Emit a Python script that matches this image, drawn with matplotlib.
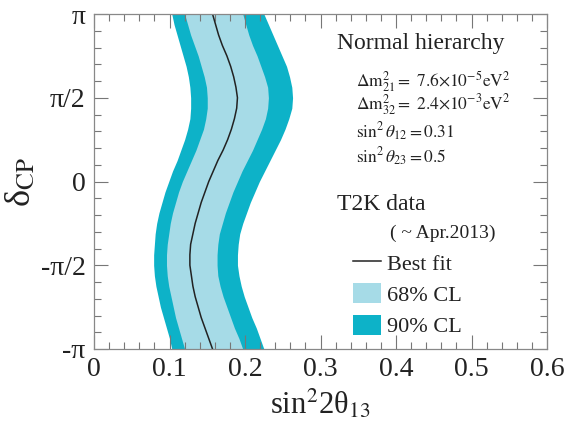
import numpy as np
import matplotlib
matplotlib.use("Agg")
import matplotlib.pyplot as plt
from matplotlib.lines import Line2D
from matplotlib.patches import Patch
from matplotlib.ticker import MultipleLocator, FixedLocator

plt.rcParams['font.family'] = ['Liberation Serif', 'DejaVu Serif']
plt.rcParams['mathtext.fontset'] = 'stix'

# delta_CP grid (steps of pi/16 from -pi to pi)
delta = np.linspace(-np.pi, np.pi, 33)
# 90% CL band edges
cl90_left = [0.103, 0.100, 0.096, 0.092, 0.088, 0.085, 0.082, 0.080, 0.079,
             0.079, 0.080, 0.081, 0.083, 0.086, 0.090, 0.094, 0.099, 0.104,
             0.110, 0.115, 0.120, 0.124, 0.127, 0.128, 0.128, 0.127, 0.125,
             0.122, 0.118, 0.114, 0.110, 0.106, 0.103]
cl90_right = [0.225, 0.220, 0.215, 0.209, 0.204, 0.199, 0.195, 0.192, 0.190,
              0.190, 0.191, 0.193, 0.197, 0.202, 0.207, 0.213, 0.219, 0.226,
              0.233, 0.240, 0.247, 0.253, 0.258, 0.262, 0.263, 0.262, 0.259,
              0.255, 0.249, 0.243, 0.237, 0.231, 0.225]
# 68% CL band edges
cl68_left = [0.120, 0.116, 0.112, 0.108, 0.105, 0.102, 0.099, 0.097, 0.096,
             0.096, 0.097, 0.099, 0.101, 0.104, 0.108, 0.112, 0.117, 0.123,
             0.129, 0.135, 0.140, 0.145, 0.148, 0.150, 0.150, 0.149, 0.146,
             0.142, 0.138, 0.133, 0.128, 0.124, 0.120]
cl68_right = [0.197, 0.192, 0.186, 0.181, 0.176, 0.171, 0.167, 0.164, 0.163,
              0.163, 0.164, 0.166, 0.170, 0.174, 0.179, 0.184, 0.190, 0.196,
              0.203, 0.210, 0.216, 0.222, 0.227, 0.230, 0.231, 0.230, 0.226,
              0.221, 0.216, 0.210, 0.205, 0.201, 0.197]
# best fit
best_fit = [0.157, 0.152, 0.147, 0.142, 0.138, 0.134, 0.131, 0.129, 0.127,
            0.127, 0.128, 0.131, 0.134, 0.138, 0.142, 0.147, 0.152, 0.158,
            0.164, 0.171, 0.177, 0.182, 0.186, 0.189, 0.190, 0.188, 0.185,
            0.181, 0.176, 0.170, 0.165, 0.161, 0.157]

ytick_vals = [-np.pi, -np.pi/2, 0, np.pi/2, np.pi]
ytick_labels = ['-π', '-π/2', '0', 'π/2', 'π']
xtick_vals = [0, 0.1, 0.2, 0.3, 0.4, 0.5, 0.6]
xtick_labels = ['0', '0.1', '0.2', '0.3', '0.4', '0.5', '0.6']

dark = '#0db2c8'
light = '#a6dbe7'

fig = plt.figure(figsize=(5.76, 4.32), dpi=100)
ax = fig.add_axes([94/576, 1-349/432, 453/576, 335/432])

ax.fill_betweenx(delta, cl90_left, cl90_right, color=dark, lw=0)
ax.fill_betweenx(delta, cl68_left, cl68_right, color=light, lw=0)
ax.plot(best_fit, delta, color='#222222', lw=1.1)

ax.set_xlim(0, 0.6)
ax.set_ylim(-np.pi, np.pi)
ax.set_xticks(xtick_vals)
ax.set_xticklabels(xtick_labels)
ax.set_yticks(ytick_vals)
ax.set_yticklabels(ytick_labels)
ax.xaxis.set_minor_locator(MultipleLocator(0.02))
ax.yaxis.set_minor_locator(FixedLocator(np.linspace(-np.pi, np.pi, 21)))
ax.tick_params(which='both', direction='in', top=True, right=True, colors='#777777',
               labelcolor='#222222', labelsize=20, width=0.8)
ax.tick_params(which='major', length=10, pad=6)
ax.tick_params(which='minor', length=5)
for s in ax.spines.values():
    s.set_color('#888888')
    s.set_linewidth(0.9)

ax.set_xlabel('sin$^2$2θ$_{13}$', fontsize=22, color='#222222', labelpad=4)
ax.set_ylabel('δ$_{\\mathrm{CP}}$', fontsize=26, color='#222222', labelpad=2)

def ax_xy(px, py):
    return (px - 94) / 453, (349 - py) / 335

tc = '#222222'
ax.text(*ax_xy(337, 43), 'Normal hierarchy', fontsize=17, color=tc, va='center', ha='left', transform=ax.transAxes)
ax.text(*ax_xy(356, 82), r'$\Delta\mathrm{m}^2_{21} =\ 7.6{\times}10^{-5}\mathrm{eV}^2$', fontsize=12.5, color=tc, va='center', ha='left', transform=ax.transAxes)
ax.text(*ax_xy(356, 105), r'$\Delta\mathrm{m}^2_{32} =\ 2.4{\times}10^{-3}\mathrm{eV}^2$', fontsize=12.5, color=tc, va='center', ha='left', transform=ax.transAxes)
ax.text(*ax_xy(356, 132), r'$\mathrm{sin}^2\,\theta_{12} = 0.31$', fontsize=12.5, color=tc, va='center', ha='left', transform=ax.transAxes)
ax.text(*ax_xy(356, 157), r'$\mathrm{sin}^2\,\theta_{23} = 0.5$', fontsize=12.5, color=tc, va='center', ha='left', transform=ax.transAxes)
ax.text(*ax_xy(337, 205), 'T2K data', fontsize=17, color=tc, va='center', ha='left', transform=ax.transAxes)
ax.text(*ax_xy(390, 233), '( ~ Apr.2013)', fontsize=14, color=tc, va='center', ha='left', transform=ax.transAxes)

handles = [Line2D([], [], color='#222222', lw=1.1),
           Patch(facecolor=light, edgecolor='none'),
           Patch(facecolor=dark, edgecolor='none')]
labels = ['Best fit', '68% CL', '90% CL']
lx, ly = ax_xy(353, 252)
leg = ax.legend(handles, labels, loc='upper left', bbox_to_anchor=(lx, ly),
                frameon=False, fontsize=16, handlelength=1.25, handleheight=1.0,
                handletextpad=0.3, labelspacing=0.4, borderpad=0, borderaxespad=0)
for t in leg.get_texts():
    t.set_color(tc)

fig.savefig('out.png', dpi=100)
